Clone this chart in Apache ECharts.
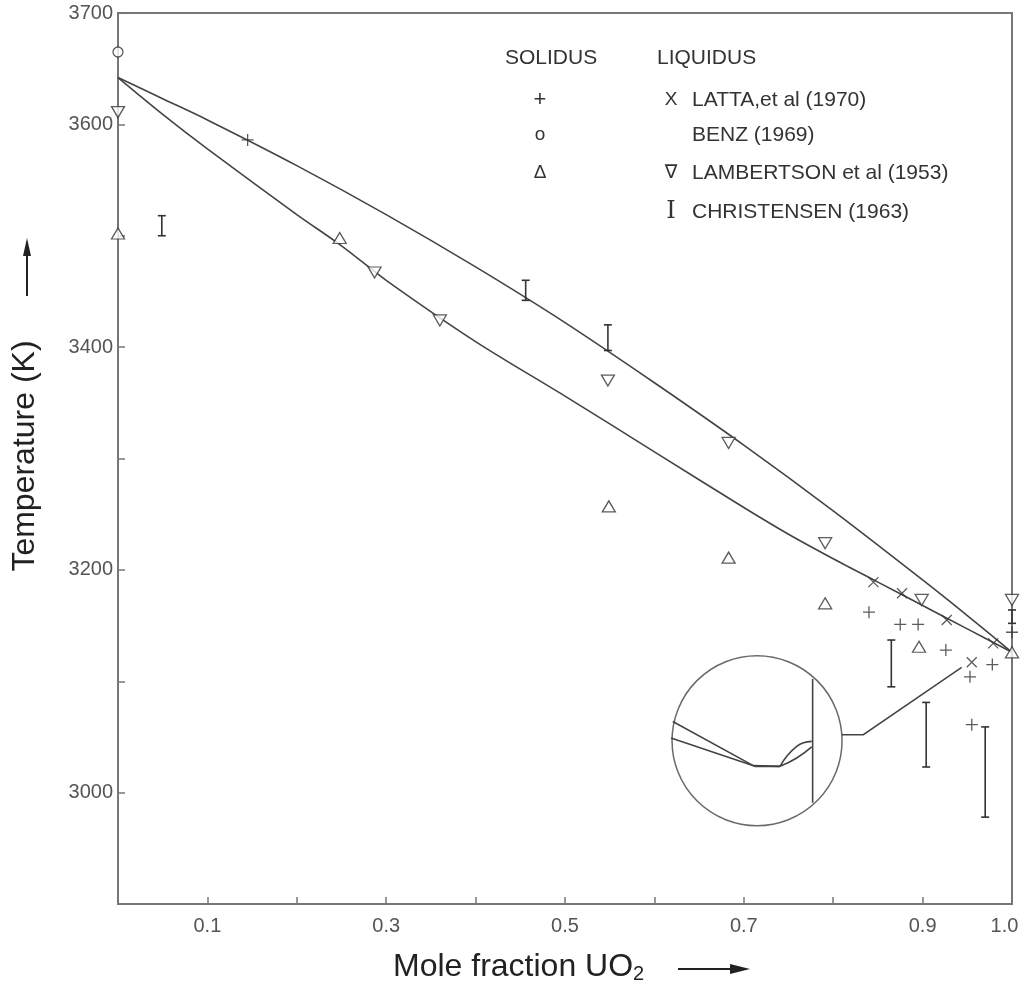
<!DOCTYPE html>
<html>
<head>
<meta charset="utf-8">
<script src="https://cdn.jsdelivr.net/npm/echarts@6/dist/echarts.min.js"></script>
<style>
    html,body{margin:0;padding:0;background:#fff;}
    #main{width:1023px;height:986px;}
</style>
</head>
<body>
<div id="main"></div>
<script>
    // UO2 - PuO2 phase diagram (solidus / liquidus)
    var xTicks = [0.1, 0.3, 0.5, 0.7, 0.9, 1.0];
    var yTicks = [3000, 3200, 3400, 3600, 3700];

    // fitted curves
    var liquidusCurve = [[0, 3642], [0.05, 3623], [0.1, 3604], [0.2, 3563], [0.3, 3519], [0.4, 3472],
        [0.5, 3422], [0.6, 3368], [0.7, 3312], [0.8, 3253], [0.9, 3191], [0.95, 3159], [1.0, 3126]];
    var solidusCurve = [[0, 3642], [0.05, 3609], [0.1, 3578], [0.2, 3519], [0.25, 3491], [0.3, 3460],
        [0.4, 3405], [0.5, 3356], [0.6, 3306], [0.7, 3256], [0.75, 3232], [0.8, 3210], [0.85, 3189],
        [0.9, 3168], [0.95, 3147], [1.0, 3126]];

    // measured points
    var lattaSolidus = [[0.145, 3586], [0.840, 3162], [0.875, 3151], [0.895, 3151], [0.926, 3128],
        [0.953, 3104], [0.978, 3115], [0.955, 3061], [1.0, 3144]];
    var lattaLiquidus = [[0.845, 3189], [0.877, 3179], [0.927, 3155], [0.979, 3134], [0.955, 3117]];
    var benzSolidus = [[0, 3665]];
    var lambSolidus = [[0, 3502], [0.248, 3498], [0.549, 3257], [0.683, 3211], [0.791, 3170],
        [0.896, 3131], [1.0, 3126]];
    var lambLiquidus = [[0, 3611], [0.287, 3467], [0.360, 3424], [0.548, 3370], [0.683, 3314],
        [0.791, 3224], [0.899, 3173], [1.0, 3173]];
    // [x, low, high]
    var christensen = [[0.049, 3500, 3518], [0.456, 3442, 3460], [0.548, 3397, 3420], [0.865, 3095, 3137],
        [0.904, 3023, 3081], [0.970, 2978, 3059], [1.0, 3152, 3164]];

    // magnified inset near x = 1
    var insetCenter = [[0.7148, 3046.6]];
    var insetLineA = [[0.6205, 3063.9], [0.7106, 3024.2], [0.7405, 3023.6]];
    var insetLineB = [[0.6186, 3049.1], [0.7125, 3023.6], [0.7405, 3023.6]];
    var insetBumpUp = [[0.7405, 3023.6], [0.7592, 3041.5], [0.7760, 3046.0]];
    var insetBumpLow = [[0.7405, 3023.6], [0.7592, 3031.1], [0.7760, 3041.0]];
    var insetWall = [[0.7770, 3102.0], [0.7770, 2990.8]];
    var insetArrow = [[0.8095, 3052.0], [0.8337, 3052.0], [0.9437, 3112.4]];

    var ink = '#333';
    var font = 'Liberation Sans, Arial, sans-serif';
    var mk = {color: 'transparent', borderColor: ink, borderWidth: 1.3};

    function curve(data, smooth) {
        return {
            type: 'line', data: data, showSymbol: false, smooth: smooth === undefined ? 0.3 : smooth, z: 2,
            lineStyle: {color: '#444', width: 1.6}
        };
    }

    function renderBar(params, api) {
        var x = api.value(0);
        var lo = api.coord([x, api.value(1)]);
        var hi = api.coord([x, api.value(2)]);
        var w = 4;
        var st = {stroke: ink, lineWidth: 1.6};
        return {
            type: 'group',
            children: [
                {type: 'line', shape: {x1: lo[0], y1: lo[1], x2: hi[0], y2: hi[1]}, style: st},
                {type: 'line', shape: {x1: lo[0] - w, y1: lo[1], x2: lo[0] + w, y2: lo[1]}, style: st},
                {type: 'line', shape: {x1: hi[0] - w, y1: hi[1], x2: hi[0] + w, y2: hi[1]}, style: st}
            ]
        };
    }

    var dom = document.getElementById('main');
    var myChart = echarts.init(dom);
    var option = {
        animation: false,
        grid: {
            left: 118, right: 11, top: 13, bottom: 82,
            outerBoundsMode: 'none', containLabel: false,
            show: true, borderColor: '#777', borderWidth: 2
        },
        xAxis: {
            type: 'value', min: 0, max: 1, interval: 0.1,
            axisLine: {lineStyle: {color: '#777', width: 2}},
            axisTick: {inside: true, length: 7, lineStyle: {color: '#777', width: 1.5}},
            splitLine: {show: false},
            axisLabel: {
                color: '#555', fontSize: 20, fontFamily: font, margin: 12,
                rich: {r: {color: '#555', fontSize: 20, fontFamily: font, padding: [0, 15, 0, 0]}},
                formatter: function (v) {
                    if (Math.abs(v - 1) < 1e-6) return '{r|1.0}';
                    for (var i = 0; i < xTicks.length; i++) {
                        if (Math.abs(xTicks[i] - v) < 1e-6) return xTicks[i].toFixed(1);
                    }
                    return '';
                }
            }
        },
        yAxis: {
            type: 'value', min: 2900, max: 3700, interval: 100,
            axisLine: {lineStyle: {color: '#777', width: 2}},
            axisTick: {inside: true, length: 7, lineStyle: {color: '#777', width: 1.5}},
            splitLine: {show: false},
            axisLabel: {
                color: '#555', fontSize: 20, fontFamily: font, margin: 5,
                formatter: function (v) {
                    return yTicks.indexOf(v) >= 0 ? String(v) : '';
                }
            }
        },
        series: [
            curve(liquidusCurve),
            curve(solidusCurve),
            {type: 'scatter', data: lattaSolidus, symbol: 'path://M5,0V10M0,5H10', symbolSize: 12, itemStyle: mk, z: 3},
            {type: 'scatter', data: lattaLiquidus, symbol: 'path://M0,0L10,10M10,0L0,10', symbolSize: 10, itemStyle: mk, z: 3},
            {type: 'scatter', data: benzSolidus, symbol: 'circle', symbolSize: 10, itemStyle: {color: '#fff', borderColor: ink, borderWidth: 1.3}, z: 3},
            {type: 'scatter', data: lambSolidus, symbol: 'triangle', symbolSize: [13, 11], itemStyle: {color: '#fff', borderColor: ink, borderWidth: 1.3}, z: 3},
            {type: 'scatter', data: lambLiquidus, symbol: 'triangle', symbolRotate: 180, symbolSize: [13, 11], itemStyle: {color: '#fff', borderColor: ink, borderWidth: 1.3}, z: 3},
            {type: 'custom', data: christensen, renderItem: renderBar, clip: false, z: 3},
            // inset
            {type: 'scatter', data: insetCenter, symbol: 'circle', symbolSize: 170, silent: true,
                itemStyle: {color: 'transparent', borderColor: '#444', borderWidth: 1.5}, z: 1},
            curve(insetLineA, 0), curve(insetLineB, 0), curve(insetBumpUp, 0.5), curve(insetBumpLow, 0.5), curve(insetWall, 0),
            {
                type: 'lines', coordinateSystem: 'cartesian2d', polyline: true,
                data: [{coords: insetArrow}],
                symbol: ['none', 'path://M5,0L10,20L0,20Z'], symbolSize: [7, 17],
                lineStyle: {color: '#444', width: 1.5, opacity: 1},
                itemStyle: {color: '#222'}
            }
        ],
        graphic: [
            // y axis name with arrow
            {type: 'text', x: 25, y: 456, rotation: Math.PI / 2,
                style: {text: 'Temperature (K)', font: '32px ' + font, fill: '#222', align: 'center', verticalAlign: 'middle'}},
            {type: 'line', shape: {x1: 27, y1: 296, x2: 27, y2: 250}, style: {stroke: '#222', lineWidth: 2}},
            {type: 'polygon', shape: {points: [[27, 238], [23, 256], [31, 256]]}, style: {fill: '#222'}},
            // x axis name with arrow
            {type: 'text', x: 393, y: 967,
                style: {
                    text: '{a|Mole fraction UO}{s|2}', fill: '#222', align: 'left', verticalAlign: 'middle',
                    rich: {a: {font: '32px ' + font, fill: '#222'}, s: {font: '20px ' + font, fill: '#222', padding: [14, 0, 0, 0]}}
                }},
            {type: 'line', shape: {x1: 678, y1: 969, x2: 735, y2: 969}, style: {stroke: '#222', lineWidth: 2}},
            {type: 'polygon', shape: {points: [[750, 969], [730, 964], [730, 974]]}, style: {fill: '#222'}},
            // legend
            {type: 'text', x: 505, y: 58, style: {text: 'SOLIDUS', font: '21px ' + font, fill: ink, verticalAlign: 'middle'}},
            {type: 'text', x: 657, y: 58, style: {text: 'LIQUIDUS', font: '21px ' + font, fill: ink, verticalAlign: 'middle'}},
            {type: 'text', x: 540, y: 100, style: {text: '+', font: '22px ' + font, fill: ink, align: 'center', verticalAlign: 'middle'}},
            {type: 'text', x: 540, y: 135, style: {text: 'o', font: '19px ' + font, fill: ink, align: 'center', verticalAlign: 'middle'}},
            {type: 'text', x: 540, y: 173, style: {text: 'Δ', font: '19px ' + font, fill: ink, align: 'center', verticalAlign: 'middle'}},
            {type: 'text', x: 671, y: 100, style: {text: 'X', font: '19px ' + font, fill: ink, align: 'center', verticalAlign: 'middle'}},
            {type: 'text', x: 671, y: 173, style: {text: '∇', font: '19px DejaVu Sans, sans-serif', fill: ink, align: 'center', verticalAlign: 'middle'}},
            {type: 'text', x: 671, y: 212, style: {text: 'I', font: '24px DejaVu Serif, serif', fill: ink, align: 'center', verticalAlign: 'middle'}},
            {type: 'text', x: 692, y: 100, style: {text: 'LATTA,et al (1970)', font: '21px ' + font, fill: ink, verticalAlign: 'middle'}},
            {type: 'text', x: 692, y: 135, style: {text: 'BENZ (1969)', font: '21px ' + font, fill: ink, verticalAlign: 'middle'}},
            {type: 'text', x: 692, y: 173, style: {text: 'LAMBERTSON et al (1953)', font: '21px ' + font, fill: ink, verticalAlign: 'middle'}},
            {type: 'text', x: 692, y: 212, style: {text: 'CHRISTENSEN (1963)', font: '21px ' + font, fill: ink, verticalAlign: 'middle'}}
        ]
    };
    myChart.setOption(option);
</script>
</body>
</html>
